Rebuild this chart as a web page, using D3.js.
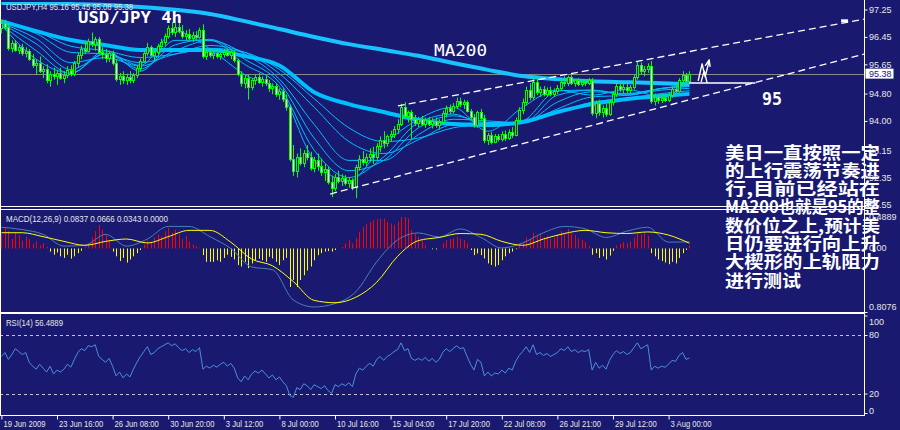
<!DOCTYPE html>
<html><head><meta charset="utf-8">
<script src="https://cdn.jsdelivr.net/npm/d3@7/dist/d3.min.js"></script>
<style>html,body{margin:0;padding:0;background:#191970;overflow:hidden}svg{display:block}</style>
</head><body>
<svg id="chart" width="900" height="430"></svg>
<script>
// ================= DATA =================
const timeLabels = ["19 Jun 2009","23 Jun 16:00","26 Jun 08:00","30 Jun 20:00","3 Jul 12:00","8 Jul 00:00","10 Jul 16:00","15 Jul 04:00","17 Jul 20:00","22 Jul 08:00","26 Jul 21:00","29 Jul 12:00","3 Aug 00:00"];
const timeLabelBars = [0,16,32,48,64,80,96,112,128,144,160,176,192];
const priceTicks = [97.25,96.45,95.65,94.80,94.00,93.15,92.35,91.55];
const macdTicks = [0.4889,0,-0.8076];
const macdTickLabels = ["0.4889","0.00","0.8076"];
const rsiTicks = [100,80,20,0];

const open = [
96.70,96.85,96.75,96.12,96.28,96.08,96.15,95.98,96.05,95.82,
95.62,95.70,95.45,95.52,95.20,95.38,95.30,95.40,95.25,95.35,
95.50,95.38,95.68,95.92,96.10,96.05,96.32,96.25,96.38,96.02,
95.95,95.85,95.98,95.70,95.22,95.30,95.18,95.28,95.20,95.35,
95.55,95.75,95.98,96.15,95.92,96.00,96.18,96.30,96.48,96.70,
96.60,96.75,96.62,96.48,96.55,96.42,96.52,96.45,96.65,95.90,
96.02,95.92,95.98,95.88,95.95,96.02,95.92,96.00,95.78,95.38,
95.10,95.25,95.00,95.18,95.28,95.15,95.22,95.10,94.95,95.02,
94.80,94.88,94.65,94.40,92.90,92.55,92.95,92.78,93.08,92.95,
92.62,92.85,92.70,92.50,92.60,92.22,92.05,92.38,92.25,92.35,
92.18,92.28,92.08,92.65,92.90,92.80,92.95,93.05,92.95,93.28,
93.45,93.35,93.55,93.62,93.78,93.92,94.42,94.15,94.25,94.05,
93.95,94.05,93.92,94.02,93.90,94.00,93.88,93.98,94.22,94.38,
94.30,94.45,94.58,94.50,94.55,94.30,94.12,93.88,94.25,94.10,
93.45,93.58,93.40,93.55,93.48,93.62,93.50,93.68,93.60,94.02,
94.32,94.55,94.90,94.70,95.15,94.85,94.92,94.80,94.90,94.78,
94.88,94.95,95.15,95.10,95.28,95.12,95.18,95.08,95.15,95.10,
95.18,94.22,94.52,94.25,94.38,94.20,94.55,94.78,95.02,94.92,
95.00,94.90,94.98,95.28,95.62,95.45,95.52,95.60,94.58,94.70,
94.60,94.68,94.62,94.75,94.92,94.88,95.18,95.35,95.16];
const high = [
96.95,96.95,96.82,96.35,96.36,96.22,96.25,96.15,96.10,95.95,
95.80,95.88,95.60,95.65,95.45,95.55,95.48,95.55,95.45,95.60,
95.62,95.75,96.00,96.20,96.30,96.40,96.58,96.45,96.45,96.15,
96.10,96.05,96.05,95.78,95.40,95.45,95.38,95.45,95.40,95.62,
95.82,96.05,96.28,96.20,96.05,96.25,96.40,96.55,96.78,96.88,
96.85,96.95,96.80,96.65,96.68,96.60,96.62,96.72,96.82,96.10,
96.12,96.05,96.08,96.02,96.10,96.12,96.08,96.05,95.82,95.45,
95.35,95.35,95.25,95.35,95.40,95.30,95.32,95.20,95.10,95.08,
94.95,94.95,94.78,94.48,93.30,93.05,93.20,93.15,93.30,93.10,
92.95,93.05,92.90,92.75,92.68,92.40,92.45,92.55,92.45,92.42,
92.35,92.32,92.72,93.00,93.12,93.05,93.20,93.25,93.35,93.55,
93.70,93.60,93.72,93.85,94.05,94.50,94.55,94.30,94.32,94.18,
94.12,94.15,94.10,94.12,94.08,94.10,94.05,94.30,94.45,94.48,
94.52,94.68,94.68,94.62,94.60,94.35,94.20,94.30,94.35,94.18,
93.65,93.68,93.62,93.62,93.70,93.72,93.75,93.82,94.10,94.40,
94.65,95.00,95.10,95.25,95.28,95.00,95.02,94.98,95.00,94.95,
95.05,95.20,95.30,95.32,95.35,95.22,95.25,95.20,95.22,95.25,
95.25,94.60,94.62,94.45,94.50,94.62,94.85,95.10,95.12,95.08,
95.10,95.05,95.35,95.72,95.70,95.60,95.68,95.75,94.80,94.78,
94.75,94.80,94.82,95.00,95.10,95.25,95.45,95.40,95.45];
const low = [
96.55,96.65,96.05,96.00,96.02,95.95,95.90,95.85,95.75,95.55,
95.35,95.40,95.25,95.10,95.00,95.20,95.05,95.20,95.10,95.25,
95.30,95.30,95.55,95.80,95.95,96.00,96.15,96.05,95.95,95.80,
95.70,95.72,95.62,95.15,95.05,95.08,95.05,95.10,95.10,95.25,
95.45,95.70,95.90,95.88,95.75,95.90,96.05,96.20,96.40,96.50,
96.45,96.55,96.40,96.35,96.35,96.30,96.38,96.40,95.82,95.78,
95.85,95.80,95.82,95.78,95.85,95.88,95.80,95.70,95.30,95.00,
94.95,94.62,94.90,95.05,95.08,95.00,95.02,94.85,94.78,94.70,
94.62,94.55,94.30,92.82,92.40,92.35,92.70,92.65,92.85,92.55,
92.50,92.55,92.40,92.25,92.15,91.78,91.95,92.18,92.10,92.12,
92.05,91.98,91.75,92.55,92.70,92.68,92.80,92.75,92.85,93.10,
93.20,93.25,93.40,93.50,93.62,93.85,94.10,93.95,93.48,93.85,
93.82,93.85,93.80,93.85,93.78,93.80,93.75,93.90,94.10,94.20,
94.22,94.35,94.40,94.35,94.25,94.05,93.80,93.80,94.00,93.35,
93.30,93.32,93.35,93.40,93.40,93.42,93.45,93.50,93.55,93.95,
94.20,94.45,94.60,94.62,94.75,94.70,94.72,94.70,94.72,94.70,
94.78,94.88,95.00,95.02,95.05,95.00,95.02,95.00,95.02,95.05,
94.15,94.08,94.15,94.10,94.12,94.15,94.45,94.70,94.85,94.80,
94.82,94.80,94.92,95.20,95.35,95.30,95.40,94.50,94.45,94.50,
94.52,94.55,94.55,94.68,94.80,94.82,95.05,95.10,95.08];
const close = [
96.85,96.75,96.12,96.28,96.08,96.15,95.98,96.05,95.82,95.62,
95.70,95.45,95.52,95.20,95.38,95.30,95.40,95.25,95.35,95.50,
95.38,95.68,95.92,96.10,96.05,96.32,96.25,96.38,96.02,95.95,
95.85,95.98,95.70,95.22,95.30,95.18,95.28,95.20,95.35,95.55,
95.75,95.98,96.15,95.92,96.00,96.18,96.30,96.48,96.70,96.60,
96.75,96.62,96.48,96.55,96.42,96.52,96.45,96.65,95.90,96.02,
95.92,95.98,95.88,95.95,96.02,95.92,96.00,95.78,95.38,95.10,
95.25,95.00,95.18,95.28,95.15,95.22,95.10,94.95,95.02,94.80,
94.88,94.65,94.40,92.90,92.55,92.95,92.78,93.08,92.95,92.62,
92.85,92.70,92.50,92.60,92.22,92.05,92.38,92.25,92.35,92.18,
92.28,92.08,92.65,92.90,92.80,92.95,93.05,92.95,93.28,93.45,
93.35,93.55,93.62,93.78,93.92,94.42,94.15,94.25,94.05,93.95,
94.05,93.92,94.02,93.90,94.00,93.88,93.98,94.22,94.38,94.30,
94.45,94.58,94.50,94.55,94.30,94.12,93.88,94.25,94.10,93.45,
93.58,93.40,93.55,93.48,93.62,93.50,93.68,93.60,94.02,94.32,
94.55,94.90,94.70,95.15,94.85,94.92,94.80,94.90,94.78,94.88,
94.95,95.15,95.10,95.28,95.12,95.18,95.08,95.15,95.10,95.18,
94.22,94.52,94.25,94.38,94.20,94.55,94.78,95.02,94.92,95.00,
94.90,94.98,95.28,95.62,95.45,95.52,95.60,94.58,94.70,94.60,
94.68,94.62,94.75,94.92,94.88,95.18,95.35,95.16,95.38];

// moving averages sampled every 10 bars
const maBars = [0,10,20,30,40,50,60,70,80,90,100,110,120,130,140,150,160,170,180,190,198];
const ma200 = [97.44,97.44,97.41,97.38,97.32,97.24,97.12,96.91,96.68,96.45,96.24,96.07,95.90,95.69,95.49,95.31,95.22,95.16,95.13,95.10,95.07];
const emaSlowBand = [96.91,96.62,96.36,96.21,96.07,96.07,96.07,95.89,95.62,94.84,94.49,94.26,94.03,93.91,93.88,93.97,94.26,94.49,94.64,94.73,94.79];
const ema5  = [96.80,95.80,95.40,95.98,95.62,96.62,96.10,95.35,94.88,92.85,92.25,93.30,94.05,94.40,93.70,94.40,94.90,94.75,94.92,94.70,95.20];
const ema10 = [96.80,96.05,95.38,96.05,95.45,96.35,96.35,95.65,95.00,93.15,92.35,92.95,93.95,94.20,93.85,94.00,94.88,94.90,94.75,94.95,95.05];
const ema15 = [96.83,96.25,95.50,95.95,95.52,96.22,96.38,95.80,95.12,93.50,92.55,92.85,93.80,94.15,93.95,93.95,94.75,94.90,94.78,94.95,95.02];
const ema20 = [96.85,96.40,95.70,95.85,95.60,96.05,96.35,95.95,95.22,93.90,92.85,92.85,93.60,94.05,94.00,93.95,94.55,94.85,94.80,94.95,95.00];
const ema30 = [96.88,96.55,96.00,95.95,95.70,95.95,96.20,96.00,95.38,94.40,93.40,93.05,93.45,93.90,93.95,93.95,94.35,94.70,94.75,94.90,94.95];
const ema40 = [96.90,96.62,96.18,96.05,95.85,95.95,96.12,96.00,95.50,94.65,93.80,93.40,93.50,93.80,93.90,93.95,94.25,94.55,94.65,94.80,94.88];

// MACD histogram (per bar)
const macdHist = [
0.18,0.26,0.22,0.12,0.20,0.17,0.10,0.15,0.12,0.06,
0.09,0.04,0.07,0.02,-0.04,-0.08,-0.05,-0.10,-0.12,-0.08,
-0.13,-0.10,-0.06,-0.03,0.02,0.06,0.14,0.22,0.30,0.24,
0.18,0.10,-0.04,-0.10,-0.16,-0.12,-0.18,-0.14,-0.10,-0.06,
-0.02,0.05,0.10,0.08,0.14,0.18,0.15,0.22,0.26,0.20,
0.24,0.18,0.12,0.16,0.09,0.05,0.03,0.01,-0.085,-0.17,
-0.17,-0.17,-0.15,-0.17,-0.12,-0.08,-0.106,-0.14,-0.21,-0.23,
-0.17,-0.25,-0.19,-0.15,-0.13,-0.15,-0.17,-0.106,-0.127,-0.17,
-0.21,-0.15,-0.12,-0.49,-0.40,-0.49,-0.40,-0.34,-0.28,-0.23,
-0.15,-0.085,-0.06,-0.04,-0.034,-0.04,-0.02,0.0,0.02,0.064,
0.106,0.064,0.127,0.21,0.275,0.31,0.34,0.36,0.37,0.38,
0.38,0.34,0.32,0.30,0.34,0.40,0.40,0.38,0.23,0.19,
0.15,0.106,0.04,0.0,-0.01,-0.013,0.0,0.064,0.106,0.12,
0.127,0.148,0.127,0.106,0.064,-0.02,-0.085,-0.064,-0.085,-0.127,
-0.19,-0.21,-0.23,-0.21,-0.15,-0.10,-0.06,-0.04,-0.01,0.04,
0.08,0.14,0.12,0.20,0.16,0.18,0.14,0.16,0.12,0.14,
0.17,0.22,0.20,0.25,0.19,0.17,0.13,0.11,0.08,0.03,
-0.08,-0.06,-0.12,-0.10,-0.14,-0.09,-0.03,0.04,0.06,0.08,
0.07,0.09,0.14,0.20,0.18,0.19,0.16,-0.06,-0.10,-0.14,
-0.16,-0.18,-0.20,-0.17,-0.19,-0.12,-0.06,-0.02,0.0343];
// MACD lines sampled every 6 bars
const macdBars = [0,6,12,18,24,30,36,42,48,54,60,66,72,78,84,90,96,102,108,114,120,126,132,138,144,150,156,162,168,174,180,186,192,198];
const macdMain = [0.27,0.24,0.18,0.03,0.04,0.18,0.03,0.12,0.28,0.28,0.15,0.00,-0.235,-0.27,-0.655,-0.744,-0.70,-0.55,-0.17,0.108,0.197,0.146,0.248,0.14,0.006,0.07,0.20,0.28,0.25,0.14,0.22,0.27,0.08,0.0837];
const macdSignal = [0.20,0.20,0.15,0.09,0.04,0.09,0.12,0.07,0.15,0.23,0.23,0.08,-0.134,-0.22,-0.42,-0.66,-0.69,-0.62,-0.43,-0.10,0.10,0.14,0.19,0.18,0.09,0.04,0.12,0.19,0.23,0.20,0.19,0.21,0.17,0.0666];

// RSI(14) per bar
const rsi = [
58,62,55,60,66,63,60,62,52,48,45,50,46,42,48,40,44,42,45,50,47,55,62,66,64,69,68,70,58,55,
52,56,48,38,42,36,40,37,45,52,58,63,68,60,62,66,68,70,72,69,71,67,64,66,62,65,63,67,45,48,
46,49,47,50,52,48,51,46,36,32,38,34,40,43,41,44,40,36,39,34,37,32,28,18,16,26,24,30,28,24,
29,27,25,28,23,20,29,27,30,28,31,27,40,46,44,48,51,48,55,58,54,58,60,63,65,72,64,66,56,54,
56,54,57,53,56,52,55,62,66,63,66,69,66,67,58,50,44,55,52,38,42,38,41,40,44,41,46,44,53,59,
63,68,62,70,60,62,59,61,58,60,62,66,64,68,63,65,62,64,63,65,44,52,46,49,45,54,60,64,61,63,
60,62,67,72,66,68,70,44,48,46,48,47,50,54,53,59,62,55,56.49];

// annotations (bar index, price)
const upperLineBars = [114.1,248.2], upperLinePrices = [94.44,96.97];
const lowerLineBars = [94.6,248.2],  lowerLinePrices = [91.87,95.95];
const levelBars = [198,217], levelPrice = 95.11;
const lastPrice = 95.38;
const noteLines = ["美日一直按照一定","的上行震荡节奏进","行,目前已经站在","MA200也就是95的整","数价位之上,预计美","日仍要进行向上升","大楔形的上轨阻力","进行测试"];

// ================= DRAW =================
const BG = '#191970', WHITE = '#ffffff', TXT = '#e6e6e6';
const svg = d3.select('#chart');
svg.append('rect').attr('width',900).attr('height',430).attr('fill',BG);

const PR = 864;                 // right edge of plot area
const MAIN = [2,206], MACDP = [210,312], RSIP = [314,415];
const x = d3.scaleLinear().domain([0,198]).range([1.4, 1.4 + 198*3.475]);
const yP = d3.scaleLinear().domain([91.5,97.25]).range([206.7,9.5]);
const yM = d3.scaleLinear().domain([-0.8076,0.4889]).range([312,210]);
const yR = d3.scaleLinear().domain([0,100]).range([413,315.5]);

const defs = svg.append('defs');
function clip(id, y0, y1){ defs.append('clipPath').attr('id',id).append('rect').attr('x',0).attr('y',y0).attr('width',PR).attr('height',y1-y0); }
clip('cMain',MAIN[0],MAIN[1]); clip('cMacd',MACDP[0],MACDP[1]); clip('cRsi',RSIP[0],RSIP[1]);

const FONT = 'Liberation Sans, Arial, sans-serif';
function squeeze(sel, k){ sel.each(function(){ const w=this.getComputedTextLength(); d3.select(this).attr('textLength',w*k).attr('lengthAdjust','spacingAndGlyphs'); }); }

// ---- main panel ----
const gMain = svg.append('g').attr('clip-path','url(#cMain)');
// last price line
gMain.append('line').attr('x1',0).attr('x2',PR).attr('y1',Math.round(yP(lastPrice))+0.5).attr('y2',Math.round(yP(lastPrice))+0.5).attr('stroke','#8a8a8a');

const lineP = d3.line().x(d=>x(d[0])).y(d=>yP(d[1])).curve(d3.curveMonotoneX);
const zipMA = arr => maBars.map((b,i)=>[b,arr[i]]);
[ema5,ema10,ema15,ema20,ema30,ema40].forEach(a=>{
  gMain.append('path').attr('d',lineP(zipMA(a))).attr('fill','none').attr('stroke','#00bfff').attr('stroke-width',1);
});
gMain.append('path').attr('d',lineP(zipMA(emaSlowBand))).attr('fill','none').attr('stroke','#00bfff').attr('stroke-width',4);
gMain.append('path').attr('d',lineP(zipMA(ma200))).attr('fill','none').attr('stroke','#18c4ff').attr('stroke-width',4);

// candles
const bars = close.map((c,i)=>({i,o:open[i],h:high[i],l:low[i],c}));
const cx = d=>Math.round(x(d.i));
gMain.append('g').selectAll('line').data(bars).join('line')
  .attr('x1',d=>cx(d)+0.5).attr('x2',d=>cx(d)+0.5)
  .attr('y1',d=>yP(d.h)).attr('y2',d=>yP(d.l))
  .attr('stroke','#00ff00').attr('stroke-width',1);
gMain.append('g').selectAll('rect').data(bars).join('rect')
  .attr('x',d=>cx(d)-0.5)
  .attr('y',d=>Math.round(yP(Math.max(d.o,d.c)))+0.5)
  .attr('width',2)
  .attr('height',d=>Math.max(1,Math.round(yP(Math.min(d.o,d.c)))-Math.round(yP(Math.max(d.o,d.c)))))
  .attr('fill',d=>d.c<d.o?WHITE:BG)
  .attr('stroke','#00ff00').attr('stroke-width',1);

// trend lines
const lineSeg = (bs,ps)=>d3.line()(bs.map((b,i)=>[x(b),yP(ps[i])]));
gMain.append('path').attr('d',lineSeg(upperLineBars,upperLinePrices)).attr('stroke',WHITE).attr('stroke-width',1.3).attr('stroke-dasharray','7,4').attr('fill','none');
gMain.append('path').attr('d',lineSeg(lowerLineBars,lowerLinePrices)).attr('stroke',WHITE).attr('stroke-width',1.3).attr('stroke-dasharray','7,4').attr('fill','none');
gMain.append('rect').attr('x',x(242.5)-3).attr('y',yP(96.92)-1.5).attr('width',7).attr('height',3).attr('fill',WHITE);
// 95 level line
gMain.append('line').attr('x1',x(levelBars[0])).attr('x2',x(levelBars[1])).attr('y1',yP(levelPrice)).attr('y2',yP(levelPrice)).attr('stroke',WHITE).attr('stroke-width',1.5);
// hand-drawn arrow
const ax = x(200.5), ay = yP(95.17);
gMain.append('path').attr('transform',`translate(${ax},${ay})`)
  .attr('d','M0,0 L4,-17 L7,-4 L11,-20 M7,-15 L11,-21 L12,-14 M3,1 L6,-10 L9,2')
  .attr('fill','none').attr('stroke',WHITE).attr('stroke-width',1.4).attr('stroke-linejoin','round');

// labels in main
svg.append('text').attr('x',x(124.5)).attr('y',yP(95.89)).text('MA200')
  .attr('font-family','DejaVu Sans Mono, monospace').attr('font-size',15).attr('fill',WHITE)
  .attr('textLength',53).attr('lengthAdjust','spacingAndGlyphs');
svg.append('text').attr('x',x(218.9)).attr('y',yP(94.47)).text('95')
  .attr('font-family','DejaVu Sans Mono, monospace').attr('font-weight','bold').attr('font-size',17).attr('fill',WHITE)
  .attr('textLength',20).attr('lengthAdjust','spacingAndGlyphs');
svg.append('text').attr('x',78).attr('y',23).text('USD/JPY 4h')
  .attr('font-family','DejaVu Sans Mono, monospace').attr('font-weight','bold').attr('font-size',15).attr('fill',WHITE)
  .attr('textLength',104).attr('lengthAdjust','spacingAndGlyphs');
svg.append('text').attr('x',6).attr('y',10).text('USDJPY,H4  95.16 95.45 95.08 95.38')
  .attr('font-family',FONT).attr('font-size',9).attr('fill',TXT)
  .attr('textLength',127).attr('lengthAdjust','spacingAndGlyphs');

// ---- MACD panel ----
const gMacd = svg.append('g').attr('clip-path','url(#cMacd)');
gMacd.append('g').selectAll('line').data(macdHist).join('line')
  .attr('x1',(d,i)=>Math.round(x(i))+0.5).attr('x2',(d,i)=>Math.round(x(i))+0.5)
  .attr('y1',yM(0)).attr('y2',d=>yM(d))
  .attr('stroke',d=>d>=0?'#ff0000':'#ffff00').attr('stroke-width',1);
const lineM = d3.line().x(d=>x(d[0])).y(d=>yM(d[1])).curve(d3.curveMonotoneX);
gMacd.append('path').attr('d',lineM(macdBars.map((b,i)=>[b,macdMain[i]]))).attr('fill','none').attr('stroke','#4682b4').attr('stroke-width',1);
gMacd.append('path').attr('d',lineM(macdBars.map((b,i)=>[b,macdSignal[i]]))).attr('fill','none').attr('stroke','#ffff00').attr('stroke-width',1);
svg.append('text').attr('x',6).attr('y',222).text('MACD(12,26,9) 0.0837 0.0666 0.0343 0.0000')
  .attr('font-family',FONT).attr('font-size',9).attr('fill',TXT)
  .attr('textLength',162).attr('lengthAdjust','spacingAndGlyphs');

// ---- RSI panel ----
const gRsi = svg.append('g').attr('clip-path','url(#cRsi)');
[80,20].forEach(v=>{
  gRsi.append('line').attr('x1',0).attr('x2',PR).attr('y1',Math.round(yR(v))+0.5).attr('y2',Math.round(yR(v))+0.5)
    .attr('stroke','#c8c8c8').attr('stroke-dasharray','3,3');
});
gRsi.append('path').attr('d',d3.line().x((d,i)=>x(i)).y(d=>yR(d))(rsi)).attr('fill','none').attr('stroke','#4a8fe0').attr('stroke-width',1);
svg.append('text').attr('x',6).attr('y',326).text('RSI(14) 56.4889')
  .attr('font-family',FONT).attr('font-size',9).attr('fill',TXT)
  .attr('textLength',57).attr('lengthAdjust','spacingAndGlyphs');

// ---- frames ----
const fr = svg.append('g').attr('stroke',WHITE).attr('stroke-width',1);
fr.append('line').attr('x1',PR+0.5).attr('x2',PR+0.5).attr('y1',0).attr('y2',416);
fr.append('line').attr('x1',0.5).attr('x2',0.5).attr('y1',0).attr('y2',416);
[206.5,209.5,312.5,313.5,415.5].forEach(y=>fr.append('line').attr('x1',0).attr('x2',PR+1).attr('y1',y).attr('y2',y));

// ---- axes ----
const axP = svg.append('g').attr('transform',`translate(${PR+0.5},0)`)
  .call(d3.axisRight(yP).tickValues(priceTicks).tickSize(3).tickFormat(d3.format('.2f')));
axP.select('.domain').remove();
axP.selectAll('line').attr('stroke',WHITE);
axP.selectAll('text').attr('x',4.5).attr('fill',TXT).attr('font-family',FONT).attr('font-size',9);

// current price box
const lpY = yP(lastPrice);
svg.append('rect').attr('x',PR+1.5).attr('y',lpY-5).attr('width',28).attr('height',10).attr('fill',WHITE);
svg.append('text').attr('x',PR+5).attr('y',lpY+3.5).text(lastPrice.toFixed(2)).attr('fill',BG).attr('font-family',FONT).attr('font-size',9);

// MACD labels
const axM = svg.append('g').attr('transform',`translate(${PR+0.5},0)`)
  .call(d3.axisRight(yM).tickValues(macdTicks).tickSize(3).tickFormat((d,i)=>macdTickLabels[i]));
axM.select('.domain').remove();
axM.selectAll('line').attr('stroke',WHITE);
axM.selectAll('text').attr('x',4.5).attr('fill',TXT).attr('font-family',FONT).attr('font-size',9)
  .attr('dy',(d,i)=>[ '1.0em','0.2em','-0.3em'][i]);

// RSI labels
const axR = svg.append('g').attr('transform',`translate(${PR+0.5},0)`)
  .call(d3.axisRight(yR).tickValues(rsiTicks).tickSize(3));
axR.select('.domain').remove();
axR.selectAll('line').attr('stroke',WHITE);
axR.selectAll('text').attr('x',4.5).attr('fill',TXT).attr('font-family',FONT).attr('font-size',9)
  .attr('dy',d=>d===100?'0.95em':d===0?'0.0em':'0.32em');

// time axis
const axT = svg.append('g').attr('transform','translate(0,415.5)')
  .call(d3.axisBottom(x).tickValues(timeLabelBars).tickSize(4).tickFormat((d,i)=>timeLabels[i]));
axT.select('.domain').remove();
axT.selectAll('line').attr('stroke',WHITE);
axT.selectAll('text').attr('fill',TXT).attr('font-family',FONT).attr('font-size',9)
  .attr('text-anchor','start').attr('x',1.5).attr('y',5).attr('dy','0.71em')
  .call(s=>squeeze(s,0.85));

// ---- chinese note ----
const note = svg.append('g').attr('font-family','Noto Sans CJK SC, sans-serif').attr('font-size',17).attr('font-weight','bold').attr('fill',WHITE);
noteLines.forEach((t,i)=>{
  const el = note.append('text').attr('x',725).attr('y',158.5 + i*18.3).text(t);
  el.attr('textLength', i===7 ? 76 : 155).attr('lengthAdjust','spacingAndGlyphs');
});
</script>
</body></html>
